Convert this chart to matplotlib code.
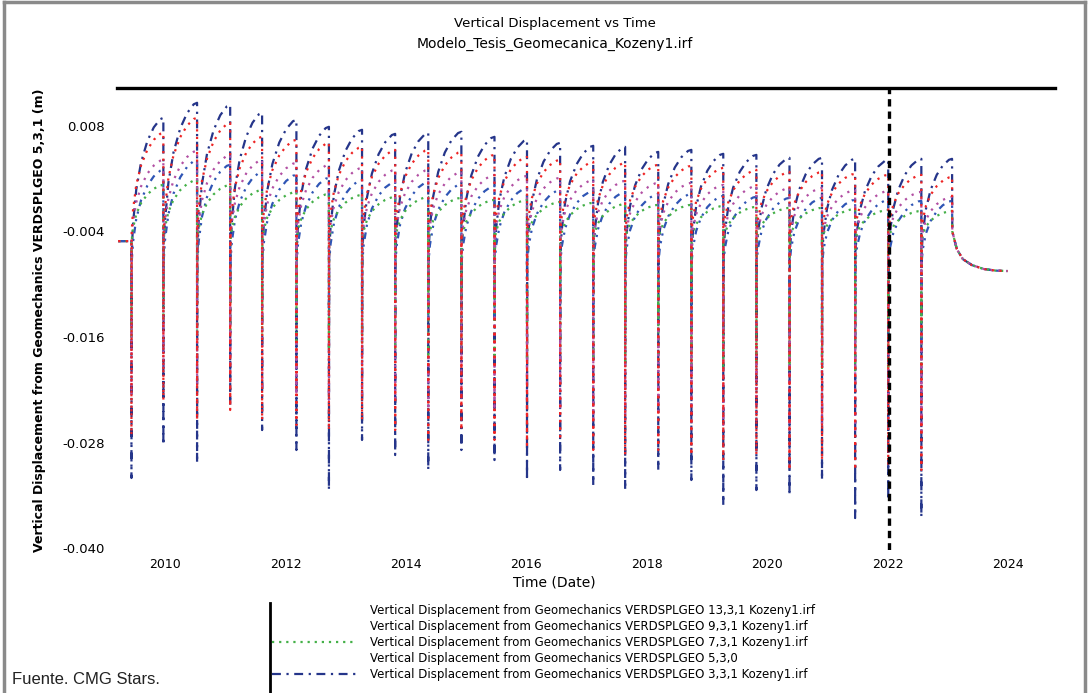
import matplotlib
matplotlib.use("Agg")
import matplotlib.pyplot as plt
from matplotlib.lines import Line2D

# fechas de las caidas (anos decimales)
drop_years = [2009.44, 2009.97, 2010.53, 2011.08, 2011.61, 2012.18, 2012.72, 2013.27,
              2013.82, 2014.37, 2014.92, 2015.47, 2016.01, 2016.56, 2017.11, 2017.64,
              2018.19, 2018.74, 2019.27, 2019.82, 2020.37, 2020.91, 2021.46, 2022.01,
              2022.56]
last_peak_year = 2023.07
end_year = 2023.99
start_year = 2009.22
init_level = -0.0051
final_level = -0.0085
after_last_peak = -0.0040

# forma de la recuperacion dentro de cada ciclo (fraccion de tiempo, fraccion de subida)
rise_time = [0.05, 0.15, 0.30, 0.50, 0.70, 0.90]
rise_frac = [0.22, 0.47, 0.67, 0.83, 0.93, 0.99]
decay_time = [2023.15, 2023.25, 2023.40, 2023.60, 2023.80]
decay_frac = [0.45, 0.70, 0.85, 0.95, 0.99]

red_base = -0.0040
red_peak = [0.00720, 0.00891, 0.00834, 0.00675, 0.00641, 0.00607, 0.00561, 0.00527, 0.00527,
            0.00504, 0.00470, 0.00447, 0.00413, 0.00391, 0.00379, 0.00357, 0.00345, 0.00322,
            0.00300, 0.00277, 0.00277, 0.00254, 0.00243, 0.00243, 0.00220]
red_trough = [-0.02713, -0.02315, -0.02543, -0.02429, -0.02543, -0.02600, -0.02657, -0.02543,
              -0.02657, -0.02770, -0.02657, -0.02770, -0.02827, -0.02770, -0.02884, -0.02941,
              -0.02884, -0.02941, -0.02998, -0.02941, -0.03111, -0.02998, -0.03111, -0.03054,
              -0.03111]

mag_base = -0.0050
mag_peak = [0.00413, 0.00516, 0.00470, 0.00413, 0.00379, 0.00357, 0.00322, 0.00300, 0.00300,
            0.00277, 0.00243, 0.00231, 0.00209, 0.00186, 0.00175, 0.00152, 0.00152, 0.00129,
            0.00118, 0.00095, 0.00095, 0.00072, 0.00061, 0.00050, -0.00007]
mag_trough = [-0.02259, -0.01974, -0.02145, -0.02088, -0.02202, -0.02259, -0.02315, -0.02259,
              -0.02315, -0.02429, -0.02315, -0.02429, -0.02486, -0.02429, -0.02543, -0.02543,
              -0.02486, -0.02600, -0.02600, -0.02543, -0.02657, -0.02600, -0.02657, -0.02657,
              -0.02713]

green_base = -0.0050
green_peak = [0.00129, 0.00186, 0.00129, 0.00072, 0.00050, 0.00027, 0.00015, -0.00007, -0.00007,
              -0.00019, -0.00041, -0.00041, -0.00064, -0.00075, -0.00087, -0.00098, -0.00098,
              -0.00110, -0.00121, -0.00132, -0.00132, -0.00144, -0.00155, -0.00167, -0.00167]
green_trough = [-0.01633, -0.01406, -0.01576, -0.01519, -0.01633, -0.01690, -0.01747, -0.01690,
                -0.01747, -0.01804, -0.01747, -0.01804, -0.01861, -0.01804, -0.01861, -0.01918,
                -0.01861, -0.01918, -0.01952, -0.01918, -0.01974, -0.01952, -0.01997, -0.01974,
                -0.02031]

royal_base = -0.0075
royal_peak = [0.00300, 0.00413, 0.00357, 0.00277, 0.00243, 0.00209, 0.00186, 0.00163, 0.00163,
              0.00140, 0.00118, 0.00095, 0.00072, 0.00061, 0.00050, 0.00027, 0.00027, 0.00004,
              -0.00007, -0.00019, -0.00019, -0.00041, -0.00041, -0.00053, -0.00053]
royal_trough = [-0.01179, -0.01065, -0.01179, -0.01122, -0.01235, -0.01292, -0.01349, -0.01292,
                -0.01349, -0.01406, -0.01349, -0.01406, -0.01463, -0.01406, -0.01463, -0.01519,
                -0.01463, -0.01519, -0.01576, -0.01519, -0.01576, -0.01542, -0.01610, -0.01576,
                -0.01633]

navy_base = -0.0065
navy_peak = [0.00891, 0.01062, 0.01039, 0.00948, 0.00868, 0.00789, 0.00755, 0.00709, 0.00720,
             0.00732, 0.00675, 0.00641, 0.00607, 0.00573, 0.00561, 0.00504, 0.00527, 0.00482,
             0.00470, 0.00436, 0.00436, 0.00425, 0.00413, 0.00425, 0.00425]
navy_trough = [-0.03202, -0.02827, -0.03032, -0.02372, -0.02657, -0.02884, -0.03339, -0.02770,
               -0.02941, -0.03111, -0.02884, -0.02998, -0.03225, -0.03111, -0.03282, -0.03339,
               -0.03111, -0.03225, -0.03509, -0.03339, -0.03396, -0.03225, -0.03657, -0.03452,
               -0.03646]

labels = [
    "Vertical Displacement from Geomechanics VERDSPLGEO 13,3,1 Kozeny1.irf",
    "Vertical Displacement from Geomechanics VERDSPLGEO 9,3,1 Kozeny1.irf",
    "Vertical Displacement from Geomechanics VERDSPLGEO 7,3,1 Kozeny1.irf",
    "Vertical Displacement from Geomechanics VERDSPLGEO 5,3,0",
    "Vertical Displacement from Geomechanics VERDSPLGEO 3,3,1 Kozeny1.irf",
]
year_ticks = [2010, 2012, 2014, 2016, 2018, 2020, 2022, 2024]
y_ticks = [0.008, -0.004, -0.016, -0.028, -0.040]
y_tick_labels = ["0.008", "-0.004", "-0.016", "-0.028", "-0.040"]


def build(base, peaks, troughs):
    t = [start_year, drop_years[0]]
    v = [init_level, init_level]
    for i, td in enumerate(drop_years):
        t += [td, td + 0.004]
        v += [troughs[i], base]
        nxt = drop_years[i + 1] if i + 1 < len(drop_years) else last_peak_year
        span = nxt - td
        for f, r in zip(rise_time, rise_frac):
            t.append(td + f * span)
            v.append(base + r * (peaks[i] - base))
        t.append(nxt)
        v.append(peaks[i])
    t.append(last_peak_year + 0.004)
    v.append(after_last_peak)
    for tt, r in zip(decay_time, decay_frac):
        t.append(tt)
        v.append(after_last_peak + r * (final_level - after_last_peak))
    t.append(end_year)
    v.append(final_level)
    return t, v


fig = plt.figure(figsize=(10.89, 6.93), dpi=100)
ax = fig.add_axes([117 / 1089, 1 - 550 / 693, (1055 - 117) / 1089, (550 - 88) / 693])

navy_ls = (0, (4, 2.5, 1, 2.5))
green_ls = (0, (1, 2.2))
series = [
    (navy_base, navy_peak, navy_trough, "#25358a", navy_ls),
    (royal_base, royal_peak, royal_trough, "#2f55b5", (0, (3, 2.5, 1, 2.5, 1, 2.5))),
    (green_base, green_peak, green_trough, "#44b048", green_ls),
    (mag_base, mag_peak, mag_trough, "#b24fa3", (0, (1, 2.6))),
    (red_base, red_peak, red_trough, "#ee2424", (0, (1, 2.4))),
]
for base, pk, tr, col, ls in series:
    t, v = build(base, pk, tr)
    ax.plot(t, v, color=col, lw=1.6, ls=ls)

ax.axvline(2022.03, color="k", lw=2.4, ls=(0, (2.2, 1.5)))

ax.set_xlim(2009.2, 2024.78)
ax.set_ylim(-0.0402, 0.0123)
ax.set_xticks(year_ticks)
ax.set_xticklabels([str(y) for y in year_ticks], fontsize=9)
ax.set_yticks(y_ticks)
ax.set_yticklabels(y_tick_labels, fontsize=9.5)
ax.tick_params(axis="x", length=0, pad=6)
ax.tick_params(axis="y", length=0, pad=9)
for s in ["left", "right", "bottom"]:
    ax.spines[s].set_visible(False)
ax.spines["top"].set_linewidth(2.4)

fig.text(555 / 1089, 1 - 23 / 693, "Vertical Displacement vs Time", ha="center", va="center", fontsize=9.5)
fig.text(555 / 1089, 1 - 44 / 693, "Modelo_Tesis_Geomecanica_Kozeny1.irf", ha="center", va="center", fontsize=10)
fig.text(554 / 1089, 1 - 583 / 693, "Time (Date)", ha="center", va="center", fontsize=10)
fig.text(40 / 1089, 1 - 320 / 693, "Vertical Displacement from Geomechanics VERDSPLGEO 5,3,1 (m)",
         ha="center", va="center", rotation=90, fontsize=9, fontweight="bold")

handles = [
    Line2D([], [], color="none"),
    Line2D([], [], color="none"),
    Line2D([], [], color="#44b048", lw=1.6, ls=green_ls),
    Line2D([], [], color="none"),
    Line2D([], [], color="#25358a", lw=1.6, ls=navy_ls),
]
fig.legend(handles, labels, loc="upper left", bbox_to_anchor=(272 / 1089, 1 - 604 / 693),
           frameon=False, fontsize=8.5, handlelength=7.2, handletextpad=1.1,
           labelspacing=0.25, borderpad=0, borderaxespad=0)
fig.add_artist(Line2D([270 / 1089] * 2, [0, 1 - 603 / 693], color="k", lw=2, transform=fig.transFigure))

fig.text(12 / 1089, 1 - 679 / 693, "Fuente. CMG Stars.", fontsize=12, va="center",
         family=["Liberation Sans", "DejaVu Sans"], color="#222222")

# marco gris
for xs, ys in [([0.004, 0.004], [0, 0.997]), ([0.004, 0.996], [0.997, 0.997]), ([0.996, 0.996], [0, 0.997])]:
    fig.add_artist(Line2D(xs, ys, color="#8a8a8a", lw=2.5, transform=fig.transFigure))

fig.savefig("out.png", dpi=100)
